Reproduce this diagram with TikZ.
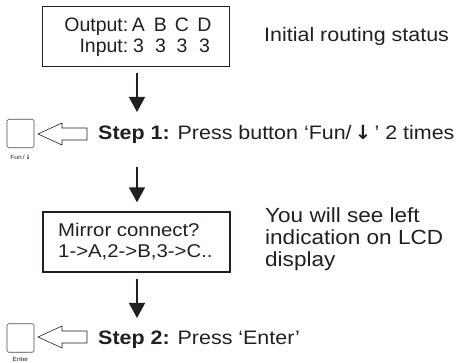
\documentclass[tikz,border=0pt]{standalone}
\usepackage{fontspec}
\setmainfont[FakeStretch=1.1]{Liberation Sans}
\newfontfamily\boxfont{Liberation Sans}
\newfontfamily\symfont{DejaVu Sans}
\usetikzlibrary{arrows.meta}
\definecolor{ink}{HTML}{231F20}
\tikzset{
  lcd/.style={draw=ink, line width=1.3pt, minimum width=187pt, minimum height=60pt, inner sep=0pt},
  flow/.style={draw=ink, line width=1.4pt, -{Triangle[length=15pt,width=16pt]}},
  txt/.style={anchor=base west, inner sep=0pt, text=ink, font=\fontsize{19.5}{22}\selectfont},
  lcdtxt/.style={inner sep=0pt, text=ink, font=\boxfont\fontsize{19.5}{22}\selectfont},
  btn/.style={draw=ink!80, line width=0.7pt, rounded corners=1.5pt, minimum width=27pt, minimum height=28.5pt, inner sep=0pt},
  btnlabel/.style={inner sep=0pt, text=ink, font=\fontsize{6}{7}\selectfont},
  hollow/.style={draw=ink, line width=0.6pt, line join=miter}
}
\begin{document}
\begin{tikzpicture}[x=1pt,y=-1pt]
\useasboundingbox (0,0) rectangle (475,363);
% LCD box 1
\node[lcd] (box1) at (136,36.5) {};
\node[lcdtxt, anchor=base east] (out) at (128.5,32) {Output:};
\node[lcdtxt, anchor=base east] (inp) at (128.5,53) {Input:};
\node[lcdtxt, anchor=base] (oa) at (138.5,32) {A};
\node[lcdtxt, anchor=base] (ob) at (160.5,32) {B};
\node[lcdtxt, anchor=base] (oc) at (182,32) {C};
\node[lcdtxt, anchor=base] (od) at (204.5,32) {D};
\node[lcdtxt, anchor=base] (ia) at (138.5,53) {3};
\node[lcdtxt, anchor=base] (ib) at (160.5,53) {3};
\node[lcdtxt, anchor=base] (ic) at (182,53) {3};
\node[lcdtxt, anchor=base] (id) at (204.5,53) {3};
\node[txt] (init) at (264,42) {Initial routing status};

% arrow 1
\coordinate (a1s) at (137,73);
\coordinate (a1e) at (137,112);
\draw[flow] (a1s) -- (a1e);

% step 1
\node[btn] (b1) at (20.5,133.5) {};
\node[btnlabel] (b1l) at (20.5,157) {Fun\,/\,{\symfont\bfseries ↓}};
\draw[hollow] (38,134) -- (62,123) -- (62,128) -- (87,128) -- (87,140) -- (62,140) -- (62,145) -- cycle;
\node[txt] (s1) at (98,139.5) {\textbf{Step 1:} Press button ‘Fun/\,{\symfont\bfseries ↓}\,’ 2 times};

% arrow 2
\coordinate (a2s) at (137,167);
\node[lcd] (box2) at (136.5,242) {};
\draw[flow, shorten >=9pt] (a2s) -- (box2.north -| a2s);
\node[txt, font=\fontsize{18.5}{20}\selectfont] (m1) at (58,237) {Mirror connect?};
\node[txt, font=\fontsize{18.5}{20}\selectfont] (m2) at (58,257.5) {1->A,2->B,3->C..};
\node[txt, font=\fontsize{20.5}{22}\selectfont] (r1) at (265,223) {You will see left};
\node[txt, font=\fontsize{20.5}{22}\selectfont] (r2) at (265,245) {indication on LCD};
\node[txt, font=\fontsize{20.5}{22}\selectfont] (r3) at (265,267) {display};

% arrow 3
\coordinate (a3e) at (137,318);
\draw[flow, shorten <=6pt] (box2.south -| a3e) -- (a3e);

% step 2
\node[btn] (b2) at (20.5,338) {};
\node[btnlabel] (b2l) at (20.5,359) {Enter};
\draw[hollow] (38,337) -- (62,326) -- (62,331) -- (87,331) -- (87,343) -- (62,343) -- (62,348) -- cycle;
\node[txt] (s2) at (98,345) {\textbf{Step 2:} Press ‘Enter’};
\end{tikzpicture}
\end{document}
